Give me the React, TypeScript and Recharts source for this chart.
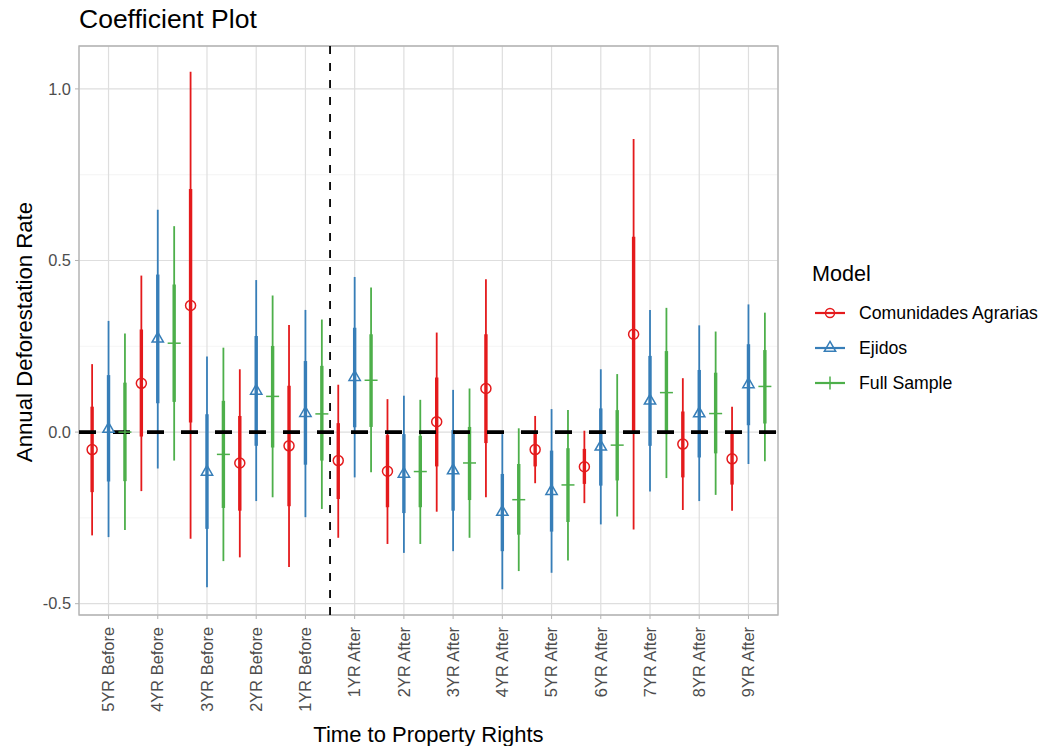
import React from 'react';
import {
  ComposedChart,
  Scatter,
  ErrorBar,
  XAxis,
  YAxis,
  CartesianGrid,
  ReferenceLine,
  ReferenceArea,
} from 'recharts';

const categories = [
  '5YR Before', '4YR Before', '3YR Before', '2YR Before', '1YR Before',
  '1YR After', '2YR After', '3YR After', '4YR After', '5YR After',
  '6YR After', '7YR After', '8YR After', '9YR After',
];

const seriesNames = ['Comunidades Agrarias', 'Ejidos', 'Full Sample'];
const yTicks = [-0.5, 0, 0.5, 1.0];
const yMinorTicks = [-0.25, 0.25, 0.75];

// Comunidades Agrarias
const comEst = [-0.051, 0.142, 0.369, -0.090, -0.040, -0.083, -0.114, 0.030, 0.127, -0.051, -0.101, 0.285, -0.035, -0.078];
const comLoWide = [-0.301, -0.172, -0.311, -0.365, -0.393, -0.308, -0.326, -0.232, -0.190, -0.149, -0.207, -0.284, -0.227, -0.229];
const comHiWide = [0.198, 0.456, 1.050, 0.183, 0.312, 0.138, 0.096, 0.290, 0.445, 0.047, 0.004, 0.854, 0.157, 0.074];
const comLoNarrow = [-0.175, -0.013, 0.028, -0.229, -0.216, -0.195, -0.219, -0.100, -0.032, -0.100, -0.151, 0.001, -0.132, -0.153];
const comHiNarrow = [0.074, 0.299, 0.708, 0.047, 0.135, 0.026, -0.009, 0.159, 0.285, -0.002, -0.049, 0.569, 0.060, -0.001];

// Ejidos
const ejiEst = [0.009, 0.272, -0.116, 0.120, 0.055, 0.160, -0.122, -0.112, -0.233, -0.172, -0.043, 0.091, 0.054, 0.139];
const ejiLoWide = [-0.306, -0.106, -0.452, -0.201, -0.248, -0.132, -0.352, -0.347, -0.458, -0.410, -0.269, -0.173, -0.201, -0.093];
const ejiHiWide = [0.324, 0.648, 0.220, 0.443, 0.356, 0.452, 0.106, 0.123, -0.006, 0.067, 0.183, 0.356, 0.311, 0.372];
const ejiLoNarrow = [-0.144, 0.084, -0.282, -0.040, -0.095, 0.014, -0.236, -0.229, -0.347, -0.290, -0.156, -0.040, -0.074, 0.020];
const ejiHiNarrow = [0.166, 0.459, 0.052, 0.280, 0.207, 0.304, -0.006, 0.006, -0.122, -0.054, 0.069, 0.222, 0.181, 0.256];

// Full Sample
const fullEst = [0.000, 0.259, -0.065, 0.104, 0.053, 0.151, -0.115, -0.090, -0.197, -0.154, -0.038, 0.115, 0.054, 0.133];
const fullLoWide = [-0.285, -0.083, -0.376, -0.190, -0.224, -0.117, -0.326, -0.308, -0.405, -0.374, -0.246, -0.134, -0.183, -0.085];
const fullHiWide = [0.287, 0.600, 0.246, 0.398, 0.328, 0.421, 0.094, 0.127, 0.011, 0.064, 0.169, 0.362, 0.293, 0.348];
const fullLoNarrow = [-0.143, 0.088, -0.221, -0.045, -0.083, 0.015, -0.219, -0.198, -0.299, -0.262, -0.141, -0.006, -0.062, 0.025];
const fullHiNarrow = [0.144, 0.430, 0.091, 0.251, 0.193, 0.285, -0.011, 0.015, -0.093, -0.047, 0.064, 0.236, 0.173, 0.239];

const FONT = '"Liberation Sans", Arial, Helvetica, sans-serif';
const RED = '#E41A1C';
const BLUE = '#377EB8';
const GREEN = '#4DAF4A';
const DODGE = 1 / 3;

function build(est: number[], loW: number[], hiW: number[], loN: number[], hiN: number[], offset: number) {
  return categories.map((c, i) => ({
    cat: c,
    x: i + 1 + offset,
    y: est[i],
    wide: [est[i] - loW[i], hiW[i] - est[i]],
    narrow: [est[i] - loN[i], hiN[i] - est[i]],
  }));
}

const comData = build(comEst, comLoWide, comHiWide, comLoNarrow, comHiNarrow, -DODGE);
const ejiData = build(ejiEst, ejiLoWide, ejiHiWide, ejiLoNarrow, ejiHiNarrow, 0);
const fullData = build(fullEst, fullLoWide, fullHiWide, fullLoNarrow, fullHiNarrow, DODGE);

const TRI_R = 4.2;
const CircleShape = (p: any) => (
  <circle cx={p.cx} cy={p.cy} r={5} fill="none" stroke={RED} strokeWidth={1.5} />
);
const TriangleShape = (p: any) => {
  const { cx, cy } = p;
  const pts = `${cx},${cy - 1.555 * TRI_R} ${cx + 1.347 * TRI_R},${cy + 0.778 * TRI_R} ${cx - 1.347 * TRI_R},${cy + 0.778 * TRI_R}`;
  return <polygon points={pts} fill="none" stroke={BLUE} strokeWidth={1.5} strokeLinejoin="miter" />;
};
const PlusShape = (p: any) => {
  const { cx, cy } = p;
  const a = 6.5;
  return (
    <g stroke={GREEN} strokeWidth={1.5}>
      <line x1={cx - a} y1={cy} x2={cx + a} y2={cy} />
      <line x1={cx} y1={cy - a} x2={cx} y2={cy + a} />
    </g>
  );
};

const XTick = (p: any) => {
  const { x, y, payload } = p;
  return (
    <text
      x={x}
      y={y}
      transform={`rotate(-90, ${x}, ${y})`}
      textAnchor="end"
      dy="0.35em"
      fill="#4d4d4d"
      fontSize={16.4}
      fontFamily={FONT}
    >
      {categories[payload.value - 1]}
    </text>
  );
};

const YTick = (p: any) => {
  const { x, y, payload } = p;
  return (
    <text x={x} y={y} textAnchor="end" dy="0.35em" fill="#4d4d4d" fontSize={16.4} fontFamily={FONT}>
      {Number(payload.value).toFixed(1)}
    </text>
  );
};

const YTitle = (p: any) => {
  const vb = p.viewBox || { x: 0, y: 46, width: 79, height: 569 };
  const cx = vb.x + 24;
  const cy = vb.y + vb.height / 2 + 1.5;
  return (
    <text x={cx} y={cy} transform={`rotate(-90, ${cx}, ${cy})`} textAnchor="middle" dy="0.35em" fill="#000" fontSize={22.2} fontFamily={FONT}>
      Annual Deforestation Rate
    </text>
  );
};

const XTitle = (p: any) => {
  const vb = p.viewBox || { x: 79, y: 615, width: 699, height: 125 };
  return (
    <text x={vb.x + vb.width / 2} y={vb.y + 126.5} textAnchor="middle" fill="#000" fontSize={22} fontFamily={FONT}>
      Time to Property Rights
    </text>
  );
};

const legendItems = [
  { name: seriesNames[0], color: RED, kind: 'circle', cy: 313.3 },
  { name: seriesNames[1], color: BLUE, kind: 'triangle', cy: 348.3 },
  { name: seriesNames[2], color: GREEN, kind: 'plus', cy: 383.3 },
];

function LegendIcon({ color, kind }: { color: string; kind: string }) {
  const cx = 15;
  const cy = 10;
  let mark: React.ReactNode = null;
  if (kind === 'circle') mark = <circle cx={cx} cy={cy} r={4.5} fill="none" stroke={color} strokeWidth={1.5} />;
  if (kind === 'triangle') {
    const pts = `${cx},${cy - 1.555 * TRI_R} ${cx + 1.347 * TRI_R},${cy + 0.778 * TRI_R} ${cx - 1.347 * TRI_R},${cy + 0.778 * TRI_R}`;
    mark = <polygon points={pts} fill="none" stroke={color} strokeWidth={1.5} />;
  }
  if (kind === 'plus') mark = <line x1={cx} y1={cy - 6.5} x2={cx} y2={cy + 6.5} stroke={color} strokeWidth={1.5} />;
  return (
    <svg width={30} height={20} style={{ display: 'block' }}>
      <line x1={0} y1={cy} x2={30} y2={cy} stroke={color} strokeWidth={2.2} />
      {mark}
    </svg>
  );
}

export default function App() {
  return (
    <div style={{ position: 'absolute', left: 0, top: 0, width: 1043, height: 746, background: '#fff', fontFamily: FONT }}>
      <div style={{ position: 'absolute', left: 79, top: 3, fontSize: 26.5, color: '#000', lineHeight: '32px', whiteSpace: 'nowrap' }}>
        Coefficient Plot
      </div>
      <ComposedChart width={1043} height={746} margin={{ top: 46, right: 265, bottom: 6, left: 0 }}>
        <CartesianGrid stroke="#efefef" strokeWidth={0.7} vertical={false} horizontalValues={yMinorTicks} />
        <CartesianGrid stroke="#dedede" strokeWidth={1.2} />
        <XAxis
          type="number"
          dataKey="x"
          domain={[0.4, 14.6]}
          ticks={[1, 2, 3, 4, 5, 6, 7, 8, 9, 10, 11, 12, 13, 14]}
          interval={0}
          allowDataOverflow
          axisLine={false}
          tickLine={{ stroke: '#b3b3b3', strokeWidth: 1 }}
          tickSize={4}
          tickMargin={8}
          height={125}
          tick={<XTick />}
          label={<XTitle />}
        />
        <YAxis
          type="number"
          dataKey="y"
          domain={[-0.533, 1.125]}
          ticks={yTicks}
          allowDataOverflow
          axisLine={false}
          tickLine={{ stroke: '#b3b3b3', strokeWidth: 1 }}
          tickSize={4}
          tickMargin={4}
          width={79}
          tick={<YTick />}
          label={<YTitle />}
        />
        <ReferenceArea x1={0.4} x2={14.6} y1={-0.533} y2={1.125} fill="none" stroke="#b3b3b3" strokeWidth={1.3} />
        <Scatter name={seriesNames[0]} data={comData} shape={<CircleShape />} isAnimationActive={false}>
          <ErrorBar dataKey="wide" direction="y" width={0} stroke={RED} strokeWidth={1.8} isAnimationActive={false} />
          <ErrorBar dataKey="narrow" direction="y" width={0} stroke={RED} strokeWidth={3.4} isAnimationActive={false} />
        </Scatter>
        <Scatter name={seriesNames[1]} data={ejiData} shape={<TriangleShape />} isAnimationActive={false}>
          <ErrorBar dataKey="wide" direction="y" width={0} stroke={BLUE} strokeWidth={1.8} isAnimationActive={false} />
          <ErrorBar dataKey="narrow" direction="y" width={0} stroke={BLUE} strokeWidth={3.4} isAnimationActive={false} />
        </Scatter>
        <Scatter name={seriesNames[2]} data={fullData} shape={<PlusShape />} isAnimationActive={false}>
          <ErrorBar dataKey="wide" direction="y" width={0} stroke={GREEN} strokeWidth={1.8} isAnimationActive={false} />
          <ErrorBar dataKey="narrow" direction="y" width={0} stroke={GREEN} strokeWidth={3.4} isAnimationActive={false} />
        </Scatter>
        <ReferenceLine y={0} stroke="#000" strokeWidth={3.6} strokeDasharray="17 17" />
        <ReferenceLine x={5.5} stroke="#000" strokeWidth={1.8} strokeDasharray="8 9" />
      </ComposedChart>
      <div style={{ position: 'absolute', left: 812, top: 274 - 17.5, height: 35, display: 'flex', alignItems: 'center', fontSize: 21.6, color: '#000', whiteSpace: 'nowrap' }}>
        Model
      </div>
      {legendItems.map((it) => (
        <div
          key={it.name}
          style={{ position: 'absolute', left: 815, top: it.cy - 17.5, height: 35, display: 'flex', alignItems: 'center' }}
        >
          <div style={{ marginRight: 14 }}>
            <LegendIcon color={it.color} kind={it.kind} />
          </div>
          <span style={{ fontSize: 17.7, color: '#000', whiteSpace: 'nowrap' }}>{it.name}</span>
        </div>
      ))}
    </div>
  );
}
